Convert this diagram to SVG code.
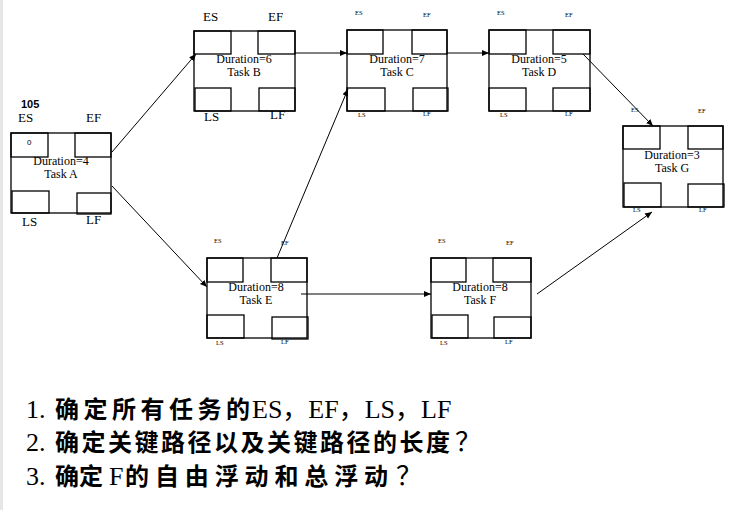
<svg xmlns="http://www.w3.org/2000/svg" width="732" height="510" viewBox="0 0 732 510">
<defs>
<style>
.box{fill:none;stroke:#000;stroke-width:1.3}
.in{fill:none;stroke:#000;stroke-width:1.3}
.lb{font-family:"Liberation Serif",serif;font-size:13px;fill:#000}
.sm{font-family:"Liberation Serif",serif;font-size:6.5px;fill:#000}
.dur{font-family:"Liberation Serif",serif;font-size:12px;fill:#000;text-anchor:middle}
.tk{font-family:"Liberation Serif",serif;font-size:12px;fill:#000;text-anchor:middle}
.con{stroke:#000;stroke-width:1;fill:none;marker-end:url(#ah)}
.q{font-family:"Liberation Serif","Noto Sans CJK SC",serif;font-size:26px;fill:#000}
.cj{font-family:"Noto Sans CJK SC",sans-serif;font-weight:bold;font-size:24px}
</style>
<marker id="ah" markerWidth="8" markerHeight="8" refX="7" refY="4" orient="auto" markerUnits="userSpaceOnUse">
<path d="M0,1 L7,4 L0,7 Z" fill="#000"/>
</marker>
</defs>
<rect width="732" height="510" fill="#fff"/>
<rect x="0" y="0" width="3" height="510" fill="#e6e6e6"/>

<g id="connectors">
<line class="con" x1="112" y1="152" x2="196" y2="54"/>
<line class="con" x1="112" y1="186" x2="207" y2="287"/>
<line class="con" x1="295" y1="53" x2="347" y2="53"/>
<line class="con" x1="447" y1="53" x2="489" y2="53"/>
<line class="con" x1="583" y1="54" x2="653" y2="126"/>
<line class="con" x1="277" y1="258" x2="348" y2="89"/>
<line class="con" x1="301" y1="294" x2="431" y2="294"/>
<line class="con" x1="537" y1="294" x2="652" y2="212"/>
</g>

<g id="taskA">
<rect class="box" x="11" y="133" width="100" height="80"/>
<rect class="in" x="11" y="133" width="37" height="24"/>
<rect class="in" x="75" y="133" width="36" height="24"/>
<rect class="in" x="12" y="191" width="37" height="22"/>
<rect class="in" x="77" y="193" width="34" height="21"/>
<text x="21" y="108" font-family="Liberation Sans,sans-serif" font-size="11" font-weight="bold">105</text>
<text class="lb" x="18" y="122">ES</text>
<text class="lb" x="86" y="122">EF</text>
<text class="lb" x="22" y="226">LS</text>
<text class="lb" x="86" y="224" font-size="11">LF</text>
<text x="27" y="145" font-family="Liberation Sans,sans-serif" font-size="8">0</text>
<text class="dur" x="61" y="165" font-size="11.5">Duration=4</text>
<text class="tk" x="61" y="178" font-size="9">Task A</text>
</g>

<g id="taskB">
<rect class="box" x="194" y="31" width="101" height="80"/>
<rect class="in" x="194" y="31" width="37" height="23"/>
<rect class="in" x="258" y="31" width="37" height="23"/>
<rect class="in" x="195" y="88" width="36" height="23"/>
<rect class="in" x="259" y="88" width="36" height="23"/>
<text class="lb" x="203" y="21">ES</text>
<text class="lb" x="268" y="21">EF</text>
<text class="lb" x="204" y="121">LS</text>
<text class="lb" x="270" y="119" font-size="11">LF</text>
<text class="dur" x="244" y="63">Duration=6</text>
<text class="tk" x="244" y="76">Task B</text>
</g>

<g id="taskC">
<rect class="box" x="347" y="30" width="100" height="81"/>
<rect class="in" x="347" y="30" width="36" height="24"/>
<rect class="in" x="412" y="30" width="35" height="24"/>
<rect class="in" x="347" y="88" width="38" height="23"/>
<rect class="in" x="413" y="88" width="35" height="23"/>
<text class="sm" x="355" y="15">ES</text>
<text class="sm" x="423" y="17">EF</text>
<text class="sm" x="358" y="117">LS</text>
<text class="sm" x="423" y="116">LF</text>
<text class="dur" x="397" y="63">Duration=7</text>
<text class="tk" x="397" y="76">Task C</text>
</g>

<g id="taskD">
<rect class="box" x="489" y="30" width="101" height="81"/>
<rect class="in" x="489" y="30" width="37" height="24"/>
<rect class="in" x="553" y="30" width="37" height="24"/>
<rect class="in" x="489" y="88" width="37" height="23"/>
<rect class="in" x="553" y="88" width="37" height="23"/>
<text class="sm" x="497" y="15">ES</text>
<text class="sm" x="565" y="17">EF</text>
<text class="sm" x="500" y="117">LS</text>
<text class="sm" x="565" y="116">LF</text>
<text class="dur" x="539" y="63">Duration=5</text>
<text class="tk" x="539" y="76">Task D</text>
</g>

<g id="taskG">
<rect class="box" x="623" y="126" width="100" height="81"/>
<rect class="in" x="623" y="126" width="37" height="23"/>
<rect class="in" x="688" y="126" width="35" height="23"/>
<rect class="in" x="624" y="183" width="37" height="24"/>
<rect class="in" x="688" y="184" width="36" height="23"/>
<text class="sm" x="631" y="112">ES</text>
<text class="sm" x="698" y="113">EF</text>
<text class="sm" x="633" y="212">LS</text>
<text class="sm" x="699" y="212">LF</text>
<text class="dur" x="672" y="159">Duration=3</text>
<text class="tk" x="672" y="172">Task G</text>
</g>

<g id="taskE">
<rect class="box" x="207" y="258" width="100" height="80"/>
<rect class="in" x="207" y="258" width="36" height="24"/>
<rect class="in" x="271" y="258" width="36" height="24"/>
<rect class="in" x="207" y="315" width="37" height="23"/>
<rect class="in" x="272" y="317" width="36" height="22"/>
<text class="sm" x="214" y="243">ES</text>
<text class="sm" x="281" y="245">EF</text>
<text class="sm" x="216" y="345">LS</text>
<text class="sm" x="281" y="344">LF</text>
<text class="dur" x="256" y="291">Duration=8</text>
<text class="tk" x="256" y="304">Task E</text>
</g>

<g id="taskF">
<rect class="box" x="431" y="258" width="100" height="80"/>
<rect class="in" x="431" y="258" width="35" height="24"/>
<rect class="in" x="493" y="258" width="38" height="24"/>
<rect class="in" x="432" y="315" width="36" height="23"/>
<rect class="in" x="494" y="317" width="37" height="21"/>
<text class="sm" x="438" y="243">ES</text>
<text class="sm" x="506" y="245">EF</text>
<text class="sm" x="440" y="345">LS</text>
<text class="sm" x="505" y="344">LF</text>
<text class="dur" x="480" y="291">Duration=8</text>
<text class="tk" x="480" y="304">Task F</text>
</g>

<g id="questions">
<text class="q" x="26" y="418">1.<tspan class="cj" x="55" textLength="195" lengthAdjust="spacing">确定所有任务的</tspan><tspan x="252">ES，EF，LS，LF</tspan></text>
<text class="q" x="26" y="451">2.<tspan class="cj" x="55" textLength="395" lengthAdjust="spacing">确定关键路径以及关键路径的长度</tspan><tspan x="455">？</tspan></text>
<text class="q" x="26" y="485">3.<tspan class="cj" x="55" textLength="48" lengthAdjust="spacing">确定</tspan><tspan x="109">F</tspan><tspan class="cj" x="125" textLength="263" lengthAdjust="spacing">的自由浮动和总浮动</tspan><tspan x="396">？</tspan></text>
</g>
</svg>
